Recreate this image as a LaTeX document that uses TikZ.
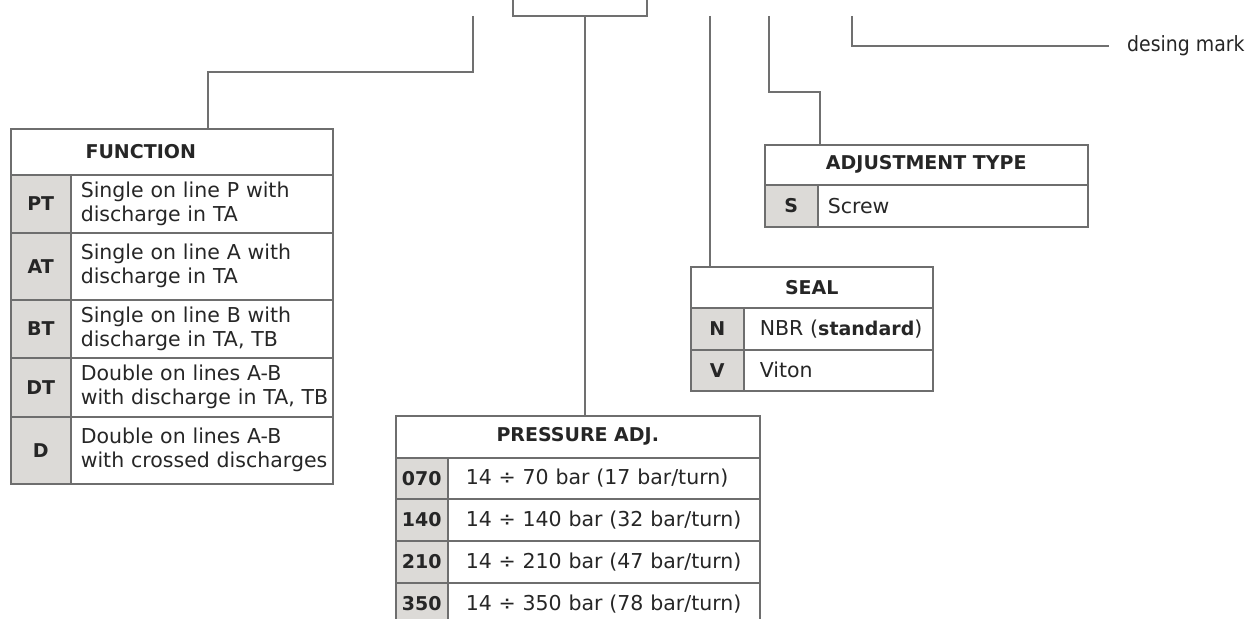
\documentclass[tikz,border=0pt]{standalone}
\usepackage{fontspec}
\setmainfont{DejaVu Sans}
\newfontfamily\condfont{DejaVu Sans Condensed}
\definecolor{keygray}{HTML}{DCDAD7}
\definecolor{framegray}{HTML}{6E6E6E}
\definecolor{leadgray}{HTML}{707070}
\definecolor{ink}{HTML}{262626}
\newcommand{\bodyfont}{\fontsize{20.5}{24}\selectfont}
\newcommand{\boldfont}{\fontsize{19}{22}\selectfont\bfseries}

\begin{document}
\begin{tikzpicture}[x=1pt, y=-1pt,
    lead/.style={draw=leadgray, line width=1.1pt},
    cell/.style={draw=framegray, line width=1.5pt, anchor=north west, inner sep=0pt, text=ink},
    headcell/.style={cell, font=\boldfont, align=center},
    keycell/.style={cell, fill=keygray, font=\boldfont},
    desccell/.style={cell, font=\bodyfont, align=left, inner xsep=#1},
    desccell/.default=10pt]
    \useasboundingbox (0,0) rectangle (1249,618);
    \clip (0,0) rectangle (1249,618);

    % FUNCTION table
    \node[headcell, minimum width=322pt, minimum height=46pt] (funchead) at (10,128) {};
    \node[font=\boldfont, text=ink] at ([xshift=-31pt]funchead.center) {FUNCTION};
    \node[keycell, minimum width=60pt, minimum height=58pt] (fpt) at (10,174) {PT};
    \node[desccell, text width=242pt, minimum height=58pt] (fptd) at (70,174) {\mbox{Single on line P with}\\\mbox{discharge in TA}};
    \node[keycell, minimum width=60pt, minimum height=67pt] (fat) at (10,232) {AT};
    \node[desccell, text width=242pt, minimum height=67pt] (fatd) at (70,232) {\mbox{Single on line A with}\\\mbox{discharge in TA}};
    \node[keycell, minimum width=60pt, minimum height=58pt] (fbt) at (10,299) {BT};
    \node[desccell, text width=242pt, minimum height=58pt] (fbtd) at (70,299) {\mbox{Single on line B with}\\\mbox{discharge in TA, TB}};
    \node[keycell, minimum width=60pt, minimum height=59pt] (fdt) at (10,357) {DT};
    \node[desccell, text width=242pt, minimum height=59pt] (fdtd) at (70,357) {\mbox{Double on lines A-B}\\\mbox{with discharge in TA, TB}};
    \node[keycell, minimum width=60pt, minimum height=67pt] (fd) at (10,416) {D};
    \node[desccell, text width=242pt, minimum height=67pt] (fdd) at (70,416) {\mbox{Double on lines A-B}\\\mbox{with crossed discharges}};

    % PRESSURE ADJ. table (runs off the bottom)
    \node[headcell, minimum width=364pt, minimum height=42pt] (preshead) at (395,415) {PRESSURE ADJ.};
    \node[keycell, minimum width=52pt, minimum height=41pt] (p070) at (395,457) {070};
    \node[desccell=18pt, text width=276pt, minimum height=41pt] (p070d) at (447,457) {\mbox{14 ÷ 70 bar (17 bar/turn)}};
    \node[keycell, minimum width=52pt, minimum height=42pt] (p140) at (395,498) {140};
    \node[desccell=18pt, text width=276pt, minimum height=42pt] (p140d) at (447,498) {\mbox{14 ÷ 140 bar (32 bar/turn)}};
    \node[keycell, minimum width=52pt, minimum height=42pt] (p210) at (395,540) {210};
    \node[desccell=18pt, text width=276pt, minimum height=42pt] (p210d) at (447,540) {\mbox{14 ÷ 210 bar (47 bar/turn)}};
    \node[keycell, minimum width=52pt, minimum height=42pt] (p350) at (395,582) {350};
    \node[desccell=18pt, text width=276pt, minimum height=42pt] (p350d) at (447,582) {\mbox{14 ÷ 350 bar (78 bar/turn)}};

    % SEAL table
    \node[headcell, minimum width=242pt, minimum height=41pt] (sealhead) at (690,266) {SEAL};
    \node[keycell, minimum width=53pt, minimum height=42pt] (sn) at (690,307) {N};
    \node[desccell=16pt, text width=157pt, minimum height=42pt] (snd) at (743,307) {\mbox{NBR ({\boldfont standard})}};
    \node[keycell, minimum width=53pt, minimum height=41pt] (sv) at (690,349) {V};
    \node[desccell=16pt, text width=157pt, minimum height=41pt] (svd) at (743,349) {Viton};

    % ADJUSTMENT TYPE table
    \node[headcell, minimum width=323pt, minimum height=40pt] (adjhead) at (764,144) {ADJUSTMENT TYPE};
    \node[keycell, minimum width=53pt, minimum height=42pt] (as) at (764,184) {S};
    \node[desccell, text width=250pt, minimum height=42pt] (asd) at (817,184) {Screw};

    % code marks along the top
    \coordinate (functop) at (473,16);
    \coordinate (presl) at (513,0);
    \coordinate (presr) at (647,0);
    \coordinate (prestop) at (585,16);
    \coordinate (sealtop) at (710,16);
    \coordinate (adjtop) at (769,16);
    \coordinate (marktop) at (852,16);

    % leader lines
    \draw[lead] (functop) -- (473,72) -| (funchead.north -| 208,0);
    \draw[lead] (presl) |- (prestop) -| (presr);
    \draw[lead] (prestop) -- (preshead.north -| prestop);
    \draw[lead] (sealtop) -- (sealhead.north -| sealtop);
    \draw[lead] (adjtop) -- (769,92) -| (adjhead.north -| 820,0);

    % design mark note
    \node[anchor=west, inner xsep=18pt, font=\condfont\fontsize{21}{24}\selectfont, text=ink] (mark) at (1109,46) {desing mark};
    \draw[lead] (marktop) |- (mark.west);
\end{tikzpicture}
\end{document}
